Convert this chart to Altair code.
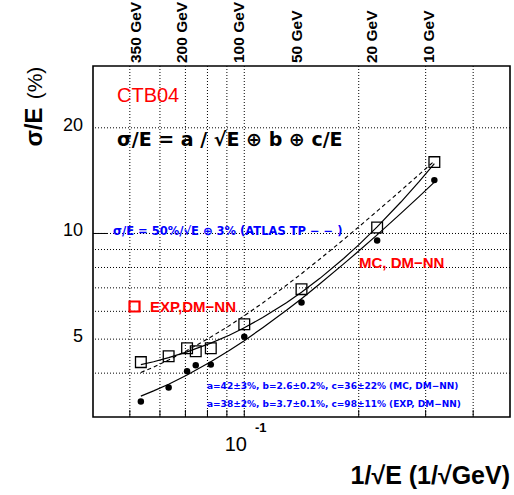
import altair as alt
import pandas as pd

# ---------------- data ----------------
beam_energy = [350, 250, 200, 180, 150, 100, 50, 20, 10]           # GeV
exp_sigma = [4.30, 4.47, 4.71, 4.62, 4.71, 5.51, 6.94, 10.40, 15.97]  # %  (open squares)
mc_sigma = [3.32, 3.64, 4.05, 4.21, 4.23, 5.08, 6.36, 9.55, 14.19]    # %  (filled circles)

curve_energy = [350, 300, 250, 200, 150, 120, 100, 80, 60, 50, 40, 30, 25, 20, 15, 12, 10]
mc_curve = [3.44, 3.56, 3.72, 3.95, 4.31, 4.64, 4.95, 5.39, 6.04, 6.52, 7.19, 8.19, 8.91, 9.91, 11.41, 12.76, 14.00]
exp_curve = [4.23, 4.31, 4.43, 4.60, 4.87, 5.13, 5.39, 5.76, 6.35, 6.80, 7.45, 8.49, 9.28, 10.44, 12.29, 14.07, 15.82]
atlas_curve = [4.02, 4.16, 4.36, 4.64, 5.07, 5.46, 5.83, 6.34, 7.12, 7.68, 8.46, 9.61, 10.44, 11.58, 13.25, 14.74, 16.09]

top_energy = [350, 200, 100, 50, 20, 10]
top_labels = ["350 GeV", "200 GeV", "100 GeV", "50 GeV", "20 GeV", "10 GeV"]

x_grid = [0.05, 0.06, 0.07, 0.08, 0.09, 0.1, 0.2, 0.3, 0.4]
y_grid = [4, 5, 6, 7, 8, 9, 10, 20]
y_tick_values = [5, 10, 20]
y_tick_labels = ["5", "10", "20"]

# ---------------- tables ----------------
pts = pd.DataFrame({"E": beam_energy, "exp": exp_sigma, "mc": mc_sigma})
pts["x"] = 1 / pts["E"] ** 0.5
cur = pd.DataFrame({"E": curve_energy, "mc": mc_curve, "exp": exp_curve, "atlas": atlas_curve})
cur["x"] = 1 / cur["E"] ** 0.5
top = pd.DataFrame({"E": top_energy, "label": top_labels})
top["x"] = 1 / top["E"] ** 0.5
xg = pd.DataFrame({"x": x_grid})
yg = pd.DataFrame({"y": y_grid})
yt = pd.DataFrame({"y": y_tick_values, "label": y_tick_labels})

W, H = 417, 351
xs = alt.Scale(type="log", domain=[0.04, 0.5], nice=False)
ys = alt.Scale(type="log", domain=[3, 30], nice=False)
X = lambda f: alt.X(f, type="quantitative", scale=xs, axis=None)
Y = lambda f: alt.Y(f, type="quantitative", scale=ys, axis=None)

SANS = "Liberation Sans"
ROOTF = "DejaVu Sans"
RED = "#ff0000"
BLUE = "#0000ff"

vgrid = alt.Chart(xg).mark_rule(color="black", strokeDash=[1, 2], strokeWidth=1).encode(x=X("x"))
hgrid = alt.Chart(yg).mark_rule(color="black", strokeDash=[1, 2], strokeWidth=1).encode(y=Y("y"))
bticks = alt.Chart(xg).mark_rule(color="black", strokeWidth=1).encode(
    x=X("x"), y=alt.value(H), y2=alt.value(H - 7))
lticks = alt.Chart(pd.DataFrame({"y": [10]})).mark_rule(color="black", strokeWidth=1).encode(
    y=Y("y"), x=alt.value(0), x2=alt.value(14))

line_mc = alt.Chart(cur).mark_line(color="black", strokeWidth=1.2).encode(x=X("x"), y=Y("mc"))
line_exp = alt.Chart(cur).mark_line(color="black", strokeWidth=1.2).encode(x=X("x"), y=Y("exp"))
line_atlas = alt.Chart(cur).mark_line(color="black", strokeWidth=1.1, strokeDash=[4, 3]).encode(
    x=X("x"), y=Y("atlas"))

squares = alt.Chart(pts).mark_point(shape="square", filled=False, color="black", size=115,
                                    strokeWidth=1.3, opacity=1).encode(x=X("x"), y=Y("exp"))
circles = alt.Chart(pts).mark_point(shape="circle", filled=True, color="black", size=42,
                                    opacity=1).encode(x=X("x"), y=Y("mc"))

top_txt = alt.Chart(top).mark_text(angle=270, align="left", baseline="alphabetic", font=SANS,
                                   fontWeight="bold", fontSize=15.5, color="black").encode(
    x=X("x"), y=alt.value(-3), text="label:N")

ytxt = alt.Chart(yt).mark_text(align="right", baseline="middle", font=SANS, fontSize=18,
                               dy=-2, color="black").encode(
    y=Y("y"), x=alt.value(-10), text="label:N")


def note(text, x, y, size, color="black", font=SANS, weight="normal", align="left", angle=0,
         baseline="alphabetic"):
    kw = dict(align=align, baseline=baseline, font=font, fontSize=size, fontWeight=weight,
              color=color, text=text)
    if angle:
        kw["angle"] = angle
    return alt.Chart(pd.DataFrame({"a": [0]})).mark_text(**kw).encode(
        x=alt.value(x), y=alt.value(y))


notes = [
    note("CTB04", 24, 36, 20, RED),
    note("σ/E = a / √E ⊕ b ⊕ c/E", 24, 80, 19, "black", ROOTF, "bold"),
    note("σ/E = 50%/√E ⊕ 3% (ATLAS TP − − )", 20, 169, 11.5, BLUE, ROOTF, "bold"),
    note("EXP,DM−NN", 57, 246, 15, RED, SANS, "bold"),
    note("MC, DM−NN", 266, 202, 15, RED, SANS, "bold"),
    note("a=42±3%, b=2.6±0.2%, c=36±22% (MC, DM−NN)", 114, 323, 9, BLUE, ROOTF, "bold"),
    note("a=38±2%, b=3.7±0.1%, c=98±11% (EXP, DM−NN)", 114, 341, 9, BLUE, ROOTF, "bold"),
    note("10", 154, 385, 20, "black", SANS, "normal", "right"),
    note("-1", 162, 366, 13, "black", SANS, "bold", "left"),
    note("1/√E (1/√GeV)", 417, 418, 25, "black", SANS, "bold", "right"),
    note("σ/E", -51, 61, 24, "black", SANS, "bold", "center", 270),
    note("(%)", -51, 17, 21, "black", SANS, "normal", "center", 270),
]

legend_sq = alt.Chart(pd.DataFrame({"a": [0]})).mark_point(
    shape="square", filled=False, color=RED, size=100, strokeWidth=2.2, opacity=1).encode(
    x=alt.value(41.5), y=alt.value(240.5))

chart = alt.layer(
    vgrid, hgrid, bticks, lticks, line_atlas, line_exp, line_mc, squares, circles,
    top_txt, ytxt, legend_sq, *notes
).properties(
    width=W, height=H,
    autosize=alt.AutoSizeParams(type="none"),
    padding={"left": 93, "top": 66, "right": 4, "bottom": 78},
    background="white",
).configure_view(stroke="black", strokeWidth=1.6)

chart.save("out.html", embed_options={"renderer": "svg", "actions": False})
